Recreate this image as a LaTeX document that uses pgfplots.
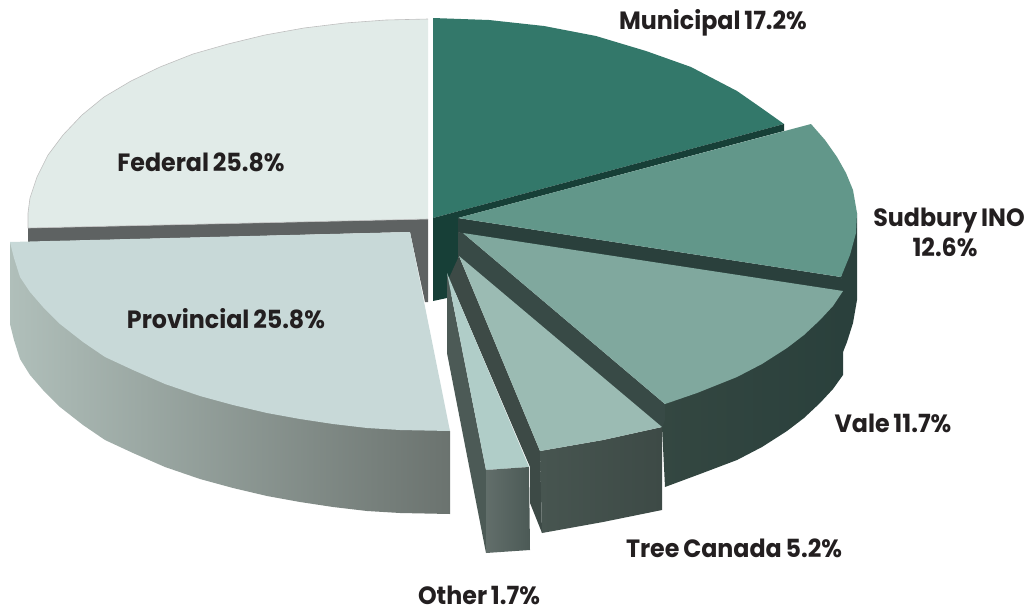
\documentclass[border=0pt]{standalone}
\usepackage{pgfplots}
\pgfplotsset{compat=1.18}
\usepackage{fontspec}
\setmainfont[FakeStretch=0.95,WordSpace=0.75]{Poppins}
\definecolor{labeltext}{HTML}{231F20}
\definecolor{fedtop}{HTML}{E1EBE8}
\definecolor{fedwall}{HTML}{5E6262}
\definecolor{munitop}{HTML}{33786A}
\definecolor{muniwall}{HTML}{173F37}
\definecolor{sudtop}{HTML}{62978A}
\definecolor{sudwall}{HTML}{2A403C}
\definecolor{valetop}{HTML}{80A89E}
\definecolor{valewall}{HTML}{344741}
\definecolor{valeband}{HTML}{384A46}
\definecolor{treetop}{HTML}{9BBBB3}
\definecolor{treeside}{HTML}{3D4A46}
\definecolor{treewall}{HTML}{475550}
\definecolor{othertop}{HTML}{B0CDC8}
\definecolor{otherside}{HTML}{4C5A56}
\definecolor{provtop}{HTML}{C8D9D8}
\definecolor{provleft}{HTML}{B0BFBA}
\definecolor{provright}{HTML}{6B736F}
\pgfplotsset{slice/.style={draw=none,no markers}}
\newcommand{\lab}[2]{\node[font=\fontsize{25pt}{25pt}\selectfont\bfseries,text=labeltext,anchor=base,inner sep=0pt] at (axis cs:#1,#2)}
\begin{document}
\begin{tikzpicture}
\begin{axis}[scale only axis,width=1029pt,height=611pt,
 xmin=0,xmax=1029,ymin=0,ymax=611,y dir=reverse,
 hide axis,clip=false]
\path (rel axis cs:0,0) rectangle (rel axis cs:1,1);
% Federal
\addplot[slice,fill=fedwall] coordinates {(28,228)(428,219)(428,302)(425,302)(410,232)(28,242)};
\addplot[slice,fill=fedtop,draw=black!25,line width=0.6pt] coordinates {(428,19)(386,20)(345,23)(304,28)(265,35)(228,44)(193,54)(160,67)(131,81)(104,97)(82,115)(63,135)(48,155)(37,177)(30,198)(28,213)(28,228)(428,219)};
% Municipal
\addplot[slice,fill=muniwall] coordinates {(433,218)(458,218)(458,290)(447,298)(433,301)};
\addplot[slice,fill=munitop] coordinates {(433,18)(489,20)(544,26)(596,36)(646,51)(691,67)(737,91)(760,107)(784,124)(433,218)};
\addplot[slice,fill=muniwall] coordinates {(433,218)(784,124)(784,131)(458,218)};
% Sudbury INO
\addplot[slice,fill=sudwall] coordinates {(857,213)(857,300)(853,323)(847,342)(843,352)(843,290)(841,277)};
\addplot[slice,fill=sudwall] coordinates {(458,218)(841,277)(846,292)(463,234)(458,232)};
\addplot[slice,fill=sudtop] coordinates {(458,218)(811,124)(825,140)(837,157)(846,173)(853,190)(857,213)(856,233)(850,255)(841,277)};
% Vale
\addplot[slice,left color=valewall,right color=sudwall] coordinates {(843,291)(843,375)(833,389)(820,403)(804,418)(787,431)(762,447)(737,460)(700,474)(665,487)(662,427)(665,404)};
\addplot[slice,fill=valeband] coordinates {(458,232)(463,233)(665,404)(665,420)(662,428)(459,257)(458,257)};
\addplot[slice,fill=valetop] coordinates {(463,233)(843,291)(833,306)(820,320)(804,335)(787,348)(762,364)(737,377)(697,393)(665,404)};
% Tree Canada
\addplot[slice,fill=treeside] coordinates {(459,256)(540,451)(542,533)(530,503)(530,467)(449,278)};
\addplot[slice,left color=treewall,right color=treeside] coordinates {(540,451)(603,440)(662,427)(662,510)(603,522)(542,533)};
\addplot[slice,fill=treetop] coordinates {(459,256)(662,427)(603,440)(540,451)};
% Other
\addplot[slice,fill=otherside] coordinates {(447,273)(447,353)(486,553)(486,470)};
\addplot[slice,fill=othertop] coordinates {(447,273)(529,467)(486,470)};
\addplot[slice,left color=otherside!88!white,right color=otherside] coordinates {(486,470)(529,467)(530,550)(486,553)};
% Provincial
\addplot[slice,left color=provleft,right color=provright] coordinates {(10,242)(10,324)(14,340)(20,359)(30,375)(43,390)(60,407)(83,425)(105,440)(133,453)(165,467)(200,479)(233,488)(267,496)(300,502)(333,507)(367,511)(400,513)(450,514)(450,431)};
\addplot[slice,fill=provtop] coordinates {(10,242)(410,232)(450,431)(400,430)(367,428)(333,424)(300,419)(267,413)(233,405)(200,396)(165,384)(133,370)(105,357)(83,342)(60,324)(43,307)(30,292)(20,277)(14,258)};
% labels
\lab{713}{29} {Municipal 17.2\%};
\lab{949}{226} {Sudbury INO};
\lab{945}{256} {12.6\%};
\lab{893}{432} {Vale 11.7\%};
\lab{734}{557} {Tree Canada 5.2\%};
\lab{479}{604} {Other 1.7\%};
\lab{201}{171} {Federal 25.8\%};
\lab{226}{328} {Provincial 25.8\%};
\end{axis}
\end{tikzpicture}
\end{document}
